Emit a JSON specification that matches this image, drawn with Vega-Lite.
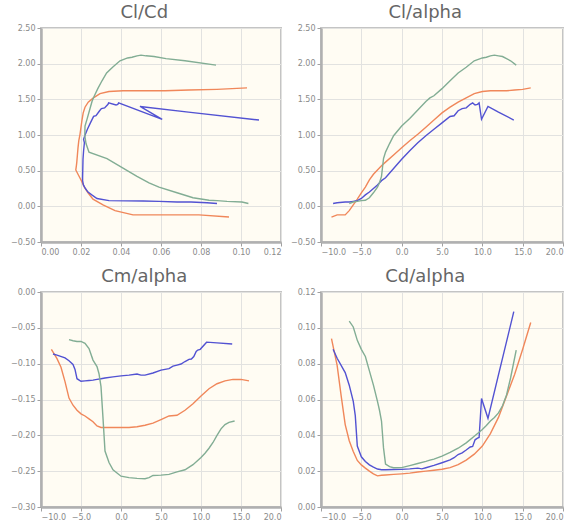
{
  "$schema": "https://vega.github.io/schema/vega-lite/v6.json",
  "padding": {"left": 6, "top": 3, "right": 5, "bottom": 5},
  "background": "white",
  "datasets": {
    "d": [
      {"s": "o", "a": -8.7, "cl": -0.15, "cd": 0.094, "cm": -0.080},
      {"s": "o", "a": -8, "cl": -0.12, "cd": 0.079, "cm": -0.093},
      {"s": "o", "a": -7.5, "cl": -0.12, "cd": 0.062, "cm": -0.105},
      {"s": "o", "a": -7, "cl": -0.12, "cd": 0.046, "cm": -0.125},
      {"s": "o", "a": -6.5, "cl": -0.06, "cd": 0.037, "cm": -0.148},
      {"s": "o", "a": -6, "cl": 0.02, "cd": 0.031, "cm": -0.158},
      {"s": "o", "a": -5.5, "cl": 0.10, "cd": 0.026, "cm": -0.165},
      {"s": "o", "a": -5, "cl": 0.19, "cd": 0.0235, "cm": -0.170},
      {"s": "o", "a": -4.5, "cl": 0.27, "cd": 0.0217, "cm": -0.173},
      {"s": "o", "a": -4, "cl": 0.37, "cd": 0.0200, "cm": -0.177},
      {"s": "o", "a": -3.5, "cl": 0.45, "cd": 0.0185, "cm": -0.181},
      {"s": "o", "a": -3, "cl": 0.51, "cd": 0.0174, "cm": -0.187},
      {"s": "o", "a": -2.5, "cl": 0.57, "cd": 0.0177, "cm": -0.189},
      {"s": "o", "a": -2, "cl": 0.62, "cd": 0.0179, "cm": -0.189},
      {"s": "o", "a": -1, "cl": 0.72, "cd": 0.0182, "cm": -0.189},
      {"s": "o", "a": 0, "cl": 0.82, "cd": 0.0185, "cm": -0.189},
      {"s": "o", "a": 1, "cl": 0.92, "cd": 0.0189, "cm": -0.189},
      {"s": "o", "a": 2, "cl": 1.01, "cd": 0.0195, "cm": -0.188},
      {"s": "o", "a": 3, "cl": 1.11, "cd": 0.0200, "cm": -0.186},
      {"s": "o", "a": 4, "cl": 1.21, "cd": 0.0205, "cm": -0.183},
      {"s": "o", "a": 5, "cl": 1.31, "cd": 0.0211, "cm": -0.178},
      {"s": "o", "a": 6, "cl": 1.39, "cd": 0.0220, "cm": -0.173},
      {"s": "o", "a": 7, "cl": 1.46, "cd": 0.0236, "cm": -0.172},
      {"s": "o", "a": 8, "cl": 1.52, "cd": 0.0262, "cm": -0.165},
      {"s": "o", "a": 9, "cl": 1.58, "cd": 0.0295, "cm": -0.156},
      {"s": "o", "a": 10, "cl": 1.61, "cd": 0.0340, "cm": -0.145},
      {"s": "o", "a": 11, "cl": 1.62, "cd": 0.0410, "cm": -0.135},
      {"s": "o", "a": 12, "cl": 1.62, "cd": 0.0500, "cm": -0.128},
      {"s": "o", "a": 13, "cl": 1.62, "cd": 0.0620, "cm": -0.124},
      {"s": "o", "a": 14, "cl": 1.63, "cd": 0.0740, "cm": -0.122},
      {"s": "o", "a": 15, "cl": 1.64, "cd": 0.0880, "cm": -0.122},
      {"s": "o", "a": 16, "cl": 1.66, "cd": 0.1030, "cm": -0.124},
      {"s": "b", "a": -8.5, "cl": 0.04, "cd": 0.088, "cm": -0.0865},
      {"s": "b", "a": -8, "cl": 0.05, "cd": 0.083, "cm": -0.088},
      {"s": "b", "a": -7, "cl": 0.06, "cd": 0.075, "cm": -0.092},
      {"s": "b", "a": -6.5, "cl": 0.06, "cd": 0.068, "cm": -0.096},
      {"s": "b", "a": -6, "cl": 0.07, "cd": 0.059, "cm": -0.101},
      {"s": "b", "a": -5.75, "cl": 0.075, "cd": 0.051, "cm": -0.108},
      {"s": "b", "a": -5.5, "cl": 0.08, "cd": 0.034, "cm": -0.121},
      {"s": "b", "a": -5, "cl": 0.11, "cd": 0.028, "cm": -0.1245},
      {"s": "b", "a": -4.5, "cl": 0.16, "cd": 0.0254, "cm": -0.124},
      {"s": "b", "a": -4, "cl": 0.20, "cd": 0.0235, "cm": -0.1235},
      {"s": "b", "a": -3.5, "cl": 0.25, "cd": 0.0222, "cm": -0.123},
      {"s": "b", "a": -3, "cl": 0.30, "cd": 0.0212, "cm": -0.122},
      {"s": "b", "a": -2.5, "cl": 0.36, "cd": 0.0208, "cm": -0.121},
      {"s": "b", "a": -2, "cl": 0.40, "cd": 0.0208, "cm": -0.120},
      {"s": "b", "a": -1, "cl": 0.53, "cd": 0.0209, "cm": -0.1185},
      {"s": "b", "a": 0, "cl": 0.66, "cd": 0.0210, "cm": -0.117},
      {"s": "b", "a": 1, "cl": 0.78, "cd": 0.0213, "cm": -0.116},
      {"s": "b", "a": 2, "cl": 0.89, "cd": 0.0217, "cm": -0.1145},
      {"s": "b", "a": 2.5, "cl": 0.94, "cd": 0.0213, "cm": -0.116},
      {"s": "b", "a": 3, "cl": 0.99, "cd": 0.0219, "cm": -0.116},
      {"s": "b", "a": 4, "cl": 1.08, "cd": 0.0232, "cm": -0.113},
      {"s": "b", "a": 5, "cl": 1.17, "cd": 0.0247, "cm": -0.109},
      {"s": "b", "a": 6, "cl": 1.26, "cd": 0.0263, "cm": -0.107},
      {"s": "b", "a": 6.5, "cl": 1.27, "cd": 0.0275, "cm": -0.1035},
      {"s": "b", "a": 7, "cl": 1.34, "cd": 0.0293, "cm": -0.102},
      {"s": "b", "a": 7.5, "cl": 1.37, "cd": 0.0302, "cm": -0.1005},
      {"s": "b", "a": 8, "cl": 1.38, "cd": 0.0318, "cm": -0.097},
      {"s": "b", "a": 8.5, "cl": 1.43, "cd": 0.0335, "cm": -0.094},
      {"s": "b", "a": 8.8, "cl": 1.45, "cd": 0.0338, "cm": -0.0935},
      {"s": "b", "a": 9.1, "cl": 1.42, "cd": 0.0375, "cm": -0.090},
      {"s": "b", "a": 9.4, "cl": 1.43, "cd": 0.0384, "cm": -0.083},
      {"s": "b", "a": 9.6, "cl": 1.45, "cd": 0.0388, "cm": -0.081},
      {"s": "b", "a": 9.9, "cl": 1.22, "cd": 0.0606, "cm": -0.080},
      {"s": "b", "a": 10.7, "cl": 1.40, "cd": 0.0495, "cm": -0.070},
      {"s": "b", "a": 12, "cl": 1.32, "cd": 0.0737, "cm": -0.071},
      {"s": "b", "a": 13.9, "cl": 1.21, "cd": 0.109, "cm": -0.0725},
      {"s": "g", "a": -6.5, "cl": 0.04, "cd": 0.1037, "cm": -0.0665},
      {"s": "g", "a": -6, "cl": 0.06, "cd": 0.1005, "cm": -0.068},
      {"s": "g", "a": -5.5, "cl": 0.07, "cd": 0.093, "cm": -0.069},
      {"s": "g", "a": -5, "cl": 0.08, "cd": 0.088, "cm": -0.069},
      {"s": "g", "a": -4.5, "cl": 0.085, "cd": 0.084, "cm": -0.0715},
      {"s": "g", "a": -4, "cl": 0.12, "cd": 0.076, "cm": -0.079},
      {"s": "g", "a": -3.5, "cl": 0.19, "cd": 0.068, "cm": -0.095},
      {"s": "g", "a": -3, "cl": 0.27, "cd": 0.059, "cm": -0.104},
      {"s": "g", "a": -2.75, "cl": 0.33, "cd": 0.054, "cm": -0.114},
      {"s": "g", "a": -2.5, "cl": 0.42, "cd": 0.048, "cm": -0.132},
      {"s": "g", "a": -2.25, "cl": 0.67, "cd": 0.033, "cm": -0.176},
      {"s": "g", "a": -2, "cl": 0.76, "cd": 0.024, "cm": -0.222},
      {"s": "g", "a": -1.5, "cl": 0.88, "cd": 0.0225, "cm": -0.238},
      {"s": "g", "a": -1, "cl": 0.99, "cd": 0.0219, "cm": -0.248},
      {"s": "g", "a": 0, "cl": 1.125, "cd": 0.0220, "cm": -0.257},
      {"s": "g", "a": 1, "cl": 1.23, "cd": 0.0231, "cm": -0.259},
      {"s": "g", "a": 2, "cl": 1.35, "cd": 0.0243, "cm": -0.260},
      {"s": "g", "a": 3, "cl": 1.47, "cd": 0.0255, "cm": -0.2605},
      {"s": "g", "a": 3.5, "cl": 1.52, "cd": 0.0262, "cm": -0.259},
      {"s": "g", "a": 4, "cl": 1.55, "cd": 0.0267, "cm": -0.256},
      {"s": "g", "a": 5, "cl": 1.65, "cd": 0.0284, "cm": -0.2555},
      {"s": "g", "a": 6, "cl": 1.76, "cd": 0.0305, "cm": -0.2545},
      {"s": "g", "a": 7, "cl": 1.87, "cd": 0.0328, "cm": -0.251},
      {"s": "g", "a": 8, "cl": 1.95, "cd": 0.0358, "cm": -0.248},
      {"s": "g", "a": 9, "cl": 2.04, "cd": 0.0395, "cm": -0.241},
      {"s": "g", "a": 10, "cl": 2.08, "cd": 0.0433, "cm": -0.231},
      {"s": "g", "a": 10.5, "cl": 2.09, "cd": 0.0455, "cm": -0.225},
      {"s": "g", "a": 11, "cl": 2.11, "cd": 0.048, "cm": -0.218},
      {"s": "g", "a": 11.5, "cl": 2.12, "cd": 0.050, "cm": -0.210},
      {"s": "g", "a": 12, "cl": 2.11, "cd": 0.0525, "cm": -0.200},
      {"s": "g", "a": 12.5, "cl": 2.10, "cd": 0.0565, "cm": -0.191},
      {"s": "g", "a": 13, "cl": 2.07, "cd": 0.0625, "cm": -0.185},
      {"s": "g", "a": 13.5, "cl": 2.04, "cd": 0.072, "cm": -0.182},
      {"s": "g", "a": 14.2, "cl": 1.98, "cd": 0.0875, "cm": -0.180}
    ]
  },
  "data": {"name": "d"},
  "columns": 2,
  "spacing": {"row": 50, "column": 40},
  "bounds": "flush",
  "config": {
    "view": {"fill": "#fffcf3", "stroke": "#c4c4c4", "strokeWidth": 2},
    "axis": {
      "title": null,
      "gridColor": "#e2e2e0",
      "gridWidth": 1,
      "domainColor": "#b0b0b0",
      "domainWidth": 2.5,
      "tickColor": "#a0a0a0",
      "tickSize": 4,
      "labelFont": "DejaVu Sans",
      "labelFontSize": 8,
      "labelColor": "#8a8a8a",
      "labelPadding": 2
    },
    "axisY": {"minExtent": 34, "maxExtent": 34},
    "title": {"font": "DejaVu Sans", "fontSize": 18, "fontWeight": "normal", "color": "#666666", "frame": "bounds", "offset": 2},
    "line": {"strokeWidth": 1.4}
  },
  "concat": [
    {
      "title": "Cl/Cd",
      "width": 240, "height": 214,
      "mark": {"type": "line"},
      "encoding": {
        "x": {"field": "cd", "type": "quantitative", "scale": {"domain": [0, 0.12], "nice": false}, "axis": {"values": [0, 0.02, 0.04, 0.06, 0.08, 0.1, 0.12], "format": ".2f"}},
        "y": {"field": "cl", "type": "quantitative", "scale": {"domain": [-0.5, 2.5], "nice": false}, "axis": {"values": [-0.5, 0, 0.5, 1, 1.5, 2, 2.5], "format": ".2f"}},
        "color": {"field": "s", "type": "nominal", "scale": {"domain": ["o", "b", "g"], "range": ["#f0875a", "#5252d2", "#82ad94"]}, "legend": null},
        "order": {"field": "a", "type": "quantitative"}
      }
    },
    {
      "title": "Cl/alpha",
      "width": 242, "height": 214,
      "mark": {"type": "line"},
      "encoding": {
        "x": {"field": "a", "type": "quantitative", "scale": {"domain": [-10, 20], "nice": false}, "axis": {"values": [-10, -5, 0, 5, 10, 15, 20], "format": ".1f"}},
        "y": {"field": "cl", "type": "quantitative", "scale": {"domain": [-0.5, 2.5], "nice": false}, "axis": {"values": [-0.5, 0, 0.5, 1, 1.5, 2, 2.5], "format": ".2f"}},
        "color": {"field": "s", "type": "nominal", "scale": {"domain": ["o", "b", "g"], "range": ["#f0875a", "#5252d2", "#82ad94"]}, "legend": null},
        "order": {"field": "a", "type": "quantitative"}
      }
    },
    {
      "title": "Cm/alpha",
      "width": 240, "height": 215,
      "mark": {"type": "line"},
      "encoding": {
        "x": {"field": "a", "type": "quantitative", "scale": {"domain": [-10, 20], "nice": false}, "axis": {"values": [-10, -5, 0, 5, 10, 15, 20], "format": ".1f"}},
        "y": {"field": "cm", "type": "quantitative", "scale": {"domain": [-0.3, 0], "nice": false, "zero": false}, "axis": {"values": [-0.3, -0.25, -0.2, -0.15, -0.1, -0.05, 0], "format": ".2f"}},
        "color": {"field": "s", "type": "nominal", "scale": {"domain": ["o", "b", "g"], "range": ["#f0875a", "#5252d2", "#82ad94"]}, "legend": null},
        "order": {"field": "a", "type": "quantitative"}
      }
    },
    {
      "title": "Cd/alpha",
      "width": 242, "height": 215,
      "mark": {"type": "line"},
      "encoding": {
        "x": {"field": "a", "type": "quantitative", "scale": {"domain": [-10, 20], "nice": false}, "axis": {"values": [-10, -5, 0, 5, 10, 15, 20], "format": ".1f"}},
        "y": {"field": "cd", "type": "quantitative", "scale": {"domain": [0, 0.12], "nice": false}, "axis": {"values": [0, 0.02, 0.04, 0.06, 0.08, 0.1, 0.12], "format": ".2f"}},
        "color": {"field": "s", "type": "nominal", "scale": {"domain": ["o", "b", "g"], "range": ["#f0875a", "#5252d2", "#82ad94"]}, "legend": null},
        "order": {"field": "a", "type": "quantitative"}
      }
    }
  ]
}
